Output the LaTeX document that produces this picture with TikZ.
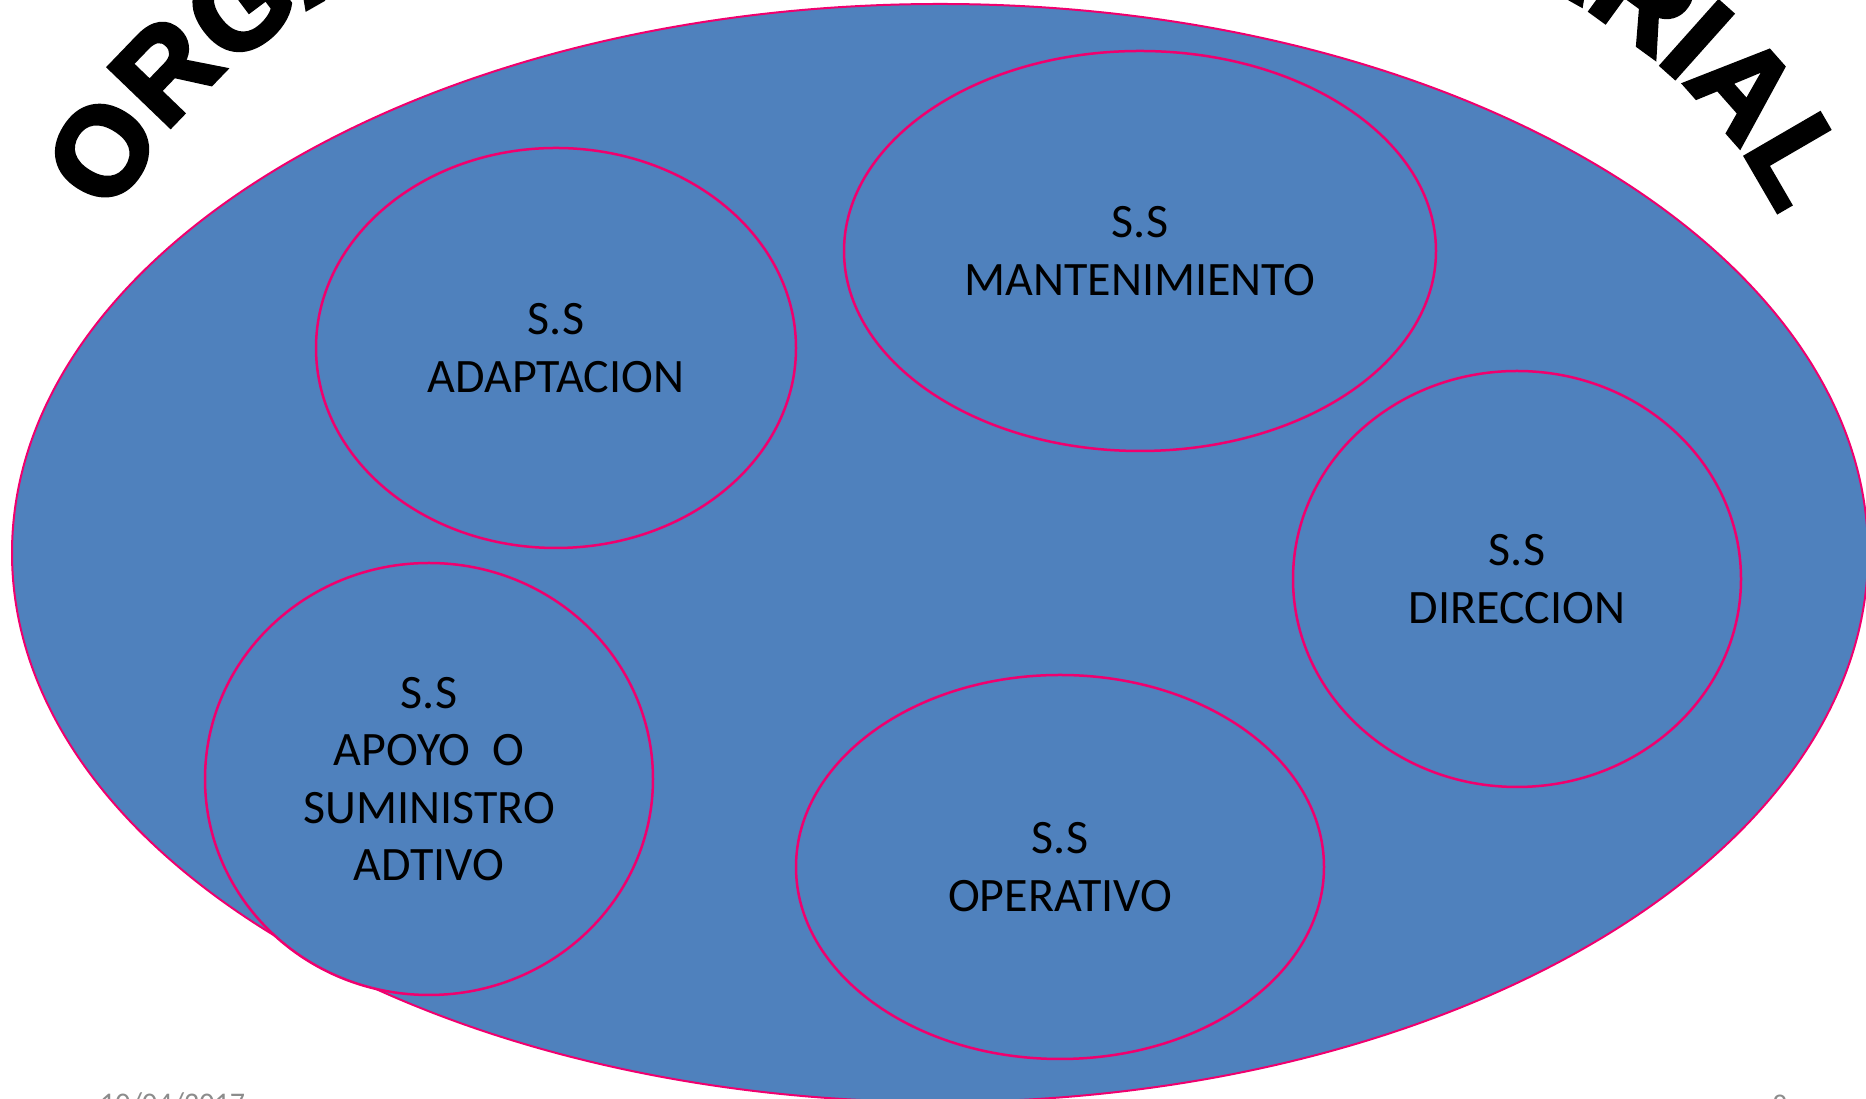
\documentclass[tikz,border=0pt]{standalone}
\usepackage{fontspec}
\setmainfont{Carlito}
\newfontfamily\titlefam[BoldFeatures={FakeBold=3.5}]{Liberation Sans}
\usetikzlibrary{shapes.geometric,decorations.text}
\definecolor{ssblue}{RGB}{79,129,189}
\definecolor{sspink}{RGB}{240,0,110}
\definecolor{footgray}{RGB}{140,140,140}
\tikzset{
    subsys/.style={ellipse, draw=sspink, fill=ssblue, line width=2.5pt, inner sep=0pt,
        align=center, font=\fontsize{48}{57.6}\selectfont},
    foot/.style={text=footgray, font=\fontsize{30}{30}\selectfont, inner sep=0pt}
}
\begin{document}
\begin{tikzpicture}[x=1pt,y=1pt]
        \useasboundingbox (0,0) rectangle (1866,1099);
        \clip (0,0) rectangle (1866,1099);

        % titulo en arco
        \path[decorate, decoration={text along path, text align=center,
            text={|\titlefam\bfseries\fontsize{124}{140}\selectfont|ORGANIZACION EMPRESARIAL}}]
            (89,760) arc[start angle=180, end angle=0, x radius=858, y radius=494];

        \node[ellipse, draw=sspink, fill=ssblue, line width=2pt, inner sep=0pt,
            minimum width=1856, minimum height=1098] (org) at (940,546) {};

        \node[subsys, minimum width=480, minimum height=400] (adapt) at (556,751) {S.S\\ADAPTACION};
        \node[subsys, minimum width=592, minimum height=400] (mant) at (1140,848) {S.S\\MANTENIMIENTO};
        \node[subsys, minimum width=448, minimum height=416] (dir) at (1517,520) {S.S\\DIRECCION};
        \node[subsys, minimum width=448, minimum height=432] (apoyo) at (429,320) {S.S\\APOYO\ \ O\\SUMINISTRO\\ADTIVO};
        \node[subsys, minimum width=528, minimum height=384] (oper) at (1060,232) {S.S\\OPERATIVO};

        \node[foot, anchor=base west] (fecha) at (100,-15) {10/04/2017};
        \node[foot, anchor=base] (pag) at (1780,-17) {8};
\end{tikzpicture}
\end{document}
